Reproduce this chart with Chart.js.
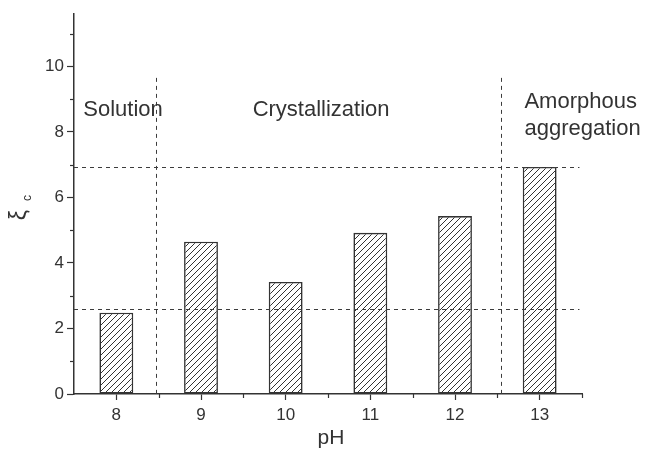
<!DOCTYPE html>
<html>
<head>
<meta charset="utf-8">
<script src="https://cdn.jsdelivr.net/npm/chart.js@4/dist/chart.umd.min.js"></script>
<style>
  html, body { margin: 0; padding: 0; background: #fff; }
  canvas { display: block; }
</style>
</head>
<body>
<canvas id="chart" width="647" height="453"></canvas>
<script>
// pH levels and the critical value xi_c measured at each one
const phLevels = [8, 9, 10, 11, 12, 13];
const xiC = [2.48, 4.65, 3.42, 4.92, 5.43, 6.93];

// axis ticks
const yTicks = [0, 1, 2, 3, 4, 5, 6, 7, 8, 9, 10, 11];
const yLabelled = [0, 2, 4, 6, 8, 10];
const xMinorTicks = [8.5, 9.5, 10.5, 11.5, 12.5, 13.5];

// regime boundaries (pH) and reference levels (xi_c)
const regimeBoundaries = [8.47, 12.54];
const boundaryTop = 9.65;
const referenceLevels = [2.6, 6.93];
const referenceEnd = 13.47;

// regime names
const regimeNames = [['Solution'], ['Crystallization'], ['Amorphous', 'aggregation']];
// left edge (pH) and first baseline (xi_c) of each regime name
const regimeAnchors = [[7.61, 8.49], [9.61, 8.49], [12.82, 8.73]];

const INK = '#333333';
const FONT = '"Liberation Sans", Arial, sans-serif';

function hatchPattern() {
  const s = 6;
  const c = document.createElement('canvas');
  c.width = s; c.height = s;
  const g = c.getContext('2d');
  g.fillStyle = '#ffffff';
  g.fillRect(0, 0, s, s);
  g.strokeStyle = '#333333';
  g.lineWidth = 1;
  g.beginPath();
  g.moveTo(0, s); g.lineTo(s, 0);
  g.moveTo(-1, 1); g.lineTo(1, -1);
  g.moveTo(s - 1, s + 1); g.lineTo(s + 1, s - 1);
  g.stroke();
  return g.createPattern(c, 'repeat');
}

const overlay = {
  id: 'overlay',
  afterDatasetsDraw(chart) {
    const ctx = chart.ctx;
    const xs = chart.scales.x, ys = chart.scales.y;
    const area = chart.chartArea;
    ctx.save();

    // dashed reference levels and regime boundaries
    ctx.strokeStyle = '#3c3c3c';
    ctx.lineWidth = 1;
    ctx.setLineDash([4, 4]);
    referenceLevels.forEach(v => {
      const y = Math.round(ys.getPixelForValue(v)) + 0.5;
      ctx.beginPath();
      ctx.moveTo(area.left, y);
      ctx.lineTo(xs.getPixelForValue(referenceEnd), y);
      ctx.stroke();
    });
    regimeBoundaries.forEach(v => {
      const x = Math.round(xs.getPixelForValue(v)) + 0.5;
      ctx.beginPath();
      ctx.moveTo(x, ys.getPixelForValue(boundaryTop));
      ctx.lineTo(x, ys.getPixelForValue(0));
      ctx.stroke();
    });
    ctx.setLineDash([]);

    // minor ticks
    ctx.strokeStyle = INK;
    ctx.lineWidth = 1.2;
    yTicks.filter(v => !yLabelled.includes(v)).forEach(v => {
      const y = Math.round(ys.getPixelForValue(v)) + 0.5;
      ctx.beginPath();
      ctx.moveTo(area.left - 4, y);
      ctx.lineTo(area.left, y);
      ctx.stroke();
    });
    xMinorTicks.forEach(v => {
      const x = Math.round(xs.getPixelForValue(v)) + 0.5;
      ctx.beginPath();
      ctx.moveTo(x, area.bottom);
      ctx.lineTo(x, area.bottom + 4);
      ctx.stroke();
    });

    // regime names
    ctx.fillStyle = INK;
    ctx.font = '22px ' + FONT;
    ctx.textAlign = 'left';
    ctx.textBaseline = 'alphabetic';
    regimeNames.forEach((lines, i) => {
      const x = xs.getPixelForValue(regimeAnchors[i][0]);
      const y0 = ys.getPixelForValue(regimeAnchors[i][1]);
      lines.forEach((t, k) => ctx.fillText(t, x, y0 + k * 27));
    });

    // axis titles
    ctx.font = '21px ' + FONT;
    ctx.textAlign = 'center';
    ctx.textBaseline = 'middle';
    ctx.fillText('pH', (area.left + area.right) / 2 + 3, 438);

    ctx.translate(20, 215);
    ctx.rotate(-Math.PI / 2);
    ctx.textAlign = 'center';
    ctx.font = '23px ' + FONT;
    ctx.fillText('ξ', 0, 0);
    ctx.font = '12px ' + FONT;
    ctx.fillText('c', 17, 8);
    ctx.restore();
  }
};

new Chart(document.getElementById('chart'), {
  type: 'bar',
  data: {
    datasets: [{
      data: phLevels.map((p, i) => ({ x: p, y: xiC[i] })),
      backgroundColor: hatchPattern(),
      borderColor: '#333333',
      borderWidth: 1.6,
      borderSkipped: false,
      barPercentage: 0.4,
      categoryPercentage: 1
    }]
  },
  options: {
    responsive: false,
    animation: false,
    events: [],
    layout: { padding: { left: 0, right: 65, top: 14, bottom: 0 } },
    plugins: { legend: { display: false }, tooltip: { enabled: false } },
    scales: {
      x: {
        type: 'linear',
        min: 7.5,
        max: 13.5,
        offset: false,
        afterBuildTicks: s => { s.ticks = phLevels.map(v => ({ value: v })); },
        afterFit: s => { s.height = 59; },
        grid: { display: true, drawOnChartArea: false, offset: false, tickLength: 6, tickColor: INK, tickWidth: 1.2 },
        border: { display: true, color: INK, width: 1.5 },
        ticks: {
          color: INK,
          padding: 5,
          maxRotation: 0,
          font: { family: FONT, size: 17 },
          callback: v => String(v)
        }
      },
      y: {
        type: 'linear',
        min: 0,
        max: 11.6,
        afterBuildTicks: s => { s.ticks = yTicks.map(v => ({ value: v })); },
        afterFit: s => { s.width = 74; },
        grid: {
          display: true,
          drawOnChartArea: false,
          tickLength: 7,
          tickWidth: 1.2,
          tickColor: c => yLabelled.includes(c.tick.value) ? INK : 'rgba(0,0,0,0)'
        },
        border: { display: true, color: INK, width: 1.5 },
        ticks: {
          color: INK,
          padding: 3,
          font: { family: FONT, size: 17 },
          callback: v => yLabelled.includes(v) ? String(v) : ''
        }
      }
    }
  },
  plugins: [overlay]
});
</script>
</body>
</html>
